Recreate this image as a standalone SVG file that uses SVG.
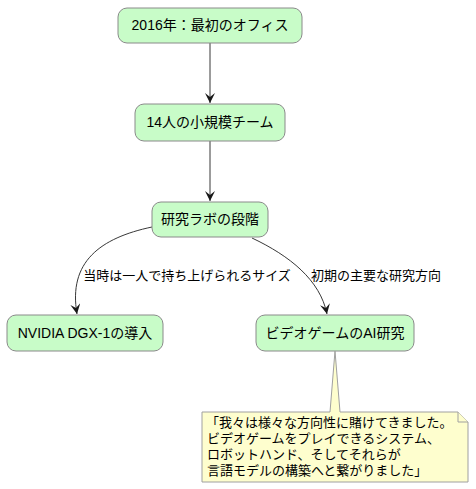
<svg xmlns="http://www.w3.org/2000/svg" width="476" height="489" viewBox="0 0 476 489">
<style>
.node rect{fill:#C8FCC8;stroke:#8A8A8A;stroke-width:1}
text{font-family:"Liberation Sans","Noto Sans CJK JP",sans-serif;font-size:13px;fill:#000}
.node text{font-size:14px}
.ctr{text-anchor:middle}
.edge{fill:none;stroke:#383838;stroke-width:1}
.note path{fill:#FEFECE;stroke:#A0A0A0;stroke-width:1}
</style>
<defs>
<marker id="arr" markerUnits="userSpaceOnUse" markerWidth="12" markerHeight="10" refX="10" refY="5" orient="auto">
<path d="M0,0 L10,5 L0,10 L4,5 Z" fill="#181818"/>
</marker>
</defs>
<g id="connectors">
<path class="edge" d="M210,43 L210,103" marker-end="url(#arr)"/>
<path class="edge" d="M210,141 L210,201" marker-end="url(#arr)"/>
<path class="edge" d="M152,227 C100,238 68,262 77,314" marker-end="url(#arr)"/>
<path class="edge" d="M252,238 C290,256 320,280 327,314" marker-end="url(#arr)"/>
<text x="187" y="280" class="ctr">当時は一人で持ち上げられるサイズ</text>
<text x="376" y="280" class="ctr">初期の主要な研究方向</text>
</g>
<g id="n1" class="node"><rect x="118" y="8" width="184" height="35" rx="9"/><text x="210" y="30" class="ctr">2016年：最初のオフィス</text></g>
<g id="n2" class="node"><rect x="135" y="104" width="150" height="37" rx="9"/><text x="210" y="127" class="ctr">14人の小規模チーム</text></g>
<g id="n3" class="node"><rect x="152" y="202" width="116" height="35" rx="9"/><text x="210" y="224" class="ctr">研究ラボの段階</text></g>
<g id="n4" class="node"><rect x="7" y="315" width="156" height="36" rx="9"/><text x="85" y="338" class="ctr">NVIDIA DGX-1の導入</text></g>
<g id="n5" class="node"><rect x="256" y="315" width="158" height="36" rx="9"/><text x="335" y="338" class="ctr">ビデオゲームのAI研究</text></g>
<g id="note" class="note">
<path d="M202,412 L330,412 L335,351 L340,412 L458,412 L468,422 L468,482 L202,482 Z"/>
<path d="M458,412 L458,422 L468,422"/>
<text x="206" y="427">「我々は様々な方向性に賭けてきました。</text>
<text x="207" y="443">ビデオゲームをプレイできるシステム、</text>
<text x="207" y="459">ロボットハンド、そしてそれらが</text>
<text x="207" y="475">言語モデルの構築へと繋がりました」</text>
</g>
</svg>
